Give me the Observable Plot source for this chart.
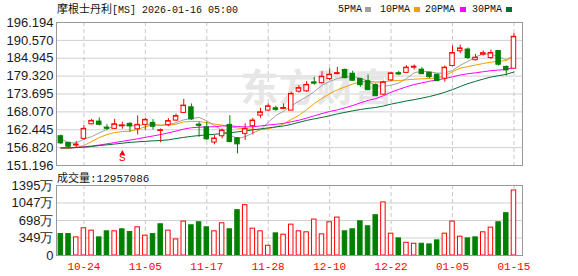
<!DOCTYPE html>
<html><head><meta charset="utf-8">
<script src="https://cdn.jsdelivr.net/npm/d3@7"></script>
<script src="https://cdn.jsdelivr.net/npm/@observablehq/plot@0.6"></script>
<style>
html,body{margin:0;padding:0;background:#fff}
body{width:578px;height:276px;overflow:hidden;position:relative;font-family:"Liberation Sans",Arial,sans-serif}
#main,#vol{position:absolute;left:0}
#main{top:0}
#vol{top:176px}
.t{position:absolute;white-space:nowrap;color:#111;line-height:14px}
.cjk{font-family:"Noto Sans CJK SC",sans-serif}
.mono{font-family:"Liberation Mono","DejaVu Sans Mono",monospace}
.sq{position:absolute;width:6px;height:5px}
</style></head><body>
<div id="main"></div><div id="vol"></div>
<div class="t" style="left:57px;top:1px;font-size:11px"><span class="cjk">摩根士丹利</span><span class="mono" style="font-size:10px">[MS] 2026-01-16 05:00</span></div>
<div class="t mono" style="left:338px;top:3px;font-size:10px">5PMA</div><div class="sq" style="left:365px;top:7px;background:#a0a0a0"></div>
<div class="t mono" style="left:380px;top:3px;font-size:10px">10PMA</div><div class="sq" style="left:414px;top:7px;background:#f0a000"></div>
<div class="t mono" style="left:425px;top:3px;font-size:10px">20PMA</div><div class="sq" style="left:460px;top:7px;background:#ff00ff"></div>
<div class="t mono" style="left:472px;top:3px;font-size:10px">30PMA</div><div class="sq" style="left:506px;top:7px;background:#007033"></div>
<div class="t" style="left:57px;top:170px;font-size:11px"><span class="cjk">成交量</span><span class="mono" style="font-size:11px">:12957086</span></div>
<script>
const dates = ["2025-10-21","2025-10-22","2025-10-23","2025-10-24","2025-10-27","2025-10-28","2025-10-29","2025-10-30","2025-10-31",
"2025-11-03","2025-11-04","2025-11-05","2025-11-06","2025-11-07","2025-11-10","2025-11-11","2025-11-12","2025-11-13","2025-11-14","2025-11-17","2025-11-18","2025-11-19","2025-11-20","2025-11-21","2025-11-24","2025-11-25","2025-11-26","2025-11-28",
"2025-12-01","2025-12-02","2025-12-03","2025-12-04","2025-12-05","2025-12-08","2025-12-09","2025-12-10","2025-12-11","2025-12-12","2025-12-15","2025-12-16","2025-12-17","2025-12-18","2025-12-19","2025-12-22","2025-12-23","2025-12-24","2025-12-26","2025-12-29","2025-12-30","2025-12-31",
"2026-01-02","2026-01-05","2026-01-06","2026-01-07","2026-01-08","2026-01-09","2026-01-12","2026-01-13","2026-01-14","2026-01-15"];

const opens = [160.40,158.32,157.48,159.58,164.16,165.01,163.13,162.72,163.54,164.29,
162.59,163.98,164.60,162.09,163.91,165.33,167.74,169.50,164.07,163.22,
158.42,160.40,163.98,159.77,161.15,163.54,166.90,168.47,169.19,169.00,
168.47,174.43,174.53,177.35,177.10,178.42,179.93,181.25,180.08,178.42,
177.73,176.47,173.49,177.98,180.24,180.34,181.97,181.34,180.40,179.77,
178.51,182.50,187.15,187.68,184.32,186.05,185.01,187.21,182.22,181.65];
const highs = [160.77,158.51,158.73,163.76,165.73,166.17,164.07,165.73,164.79,164.70,
166.80,166.05,165.64,162.72,165.95,167.37,172.01,170.57,164.79,164.79,
160.62,162.72,166.90,159.90,164.29,166.05,169.19,170.57,169.82,170.57,
174.21,176.32,177.57,178.98,180.71,181.65,182.06,181.56,180.87,178.60,
179.68,176.85,177.73,180.49,180.81,182.60,182.82,181.97,180.50,179.90,
182.50,188.81,189.09,188.15,186.14,187.21,187.53,187.30,182.50,192.74];
const lows = [157.79,156.44,156.85,159.05,163.98,163.66,162.19,162.59,162.59,161.65,
160.84,162.28,162.41,158.32,163.44,165.01,167.74,165.33,160.08,159.05,
157.70,159.58,158.32,154.87,159.05,160.84,166.05,168.15,168.25,168.78,
168.47,173.96,174.21,176.47,176.85,177.89,179.77,178.51,177.73,175.78,
174.75,172.96,173.33,177.73,179.46,180.24,181.25,179.86,178.51,177.73,
177.41,182.44,186.36,184.57,184.07,185.64,184.57,182.50,179.36,181.65];
const closes = [158.32,157.26,157.79,162.72,165.23,164.16,162.91,164.16,163.76,163.66,
163.98,165.55,163.54,162.28,165.17,166.74,170.04,165.86,163.85,159.58,
159.67,162.19,158.73,158.01,162.72,165.33,167.93,169.82,168.87,169.31,
173.71,175.53,176.57,177.10,179.14,179.77,180.24,178.83,178.04,176.63,
175.06,173.18,177.35,180.18,179.99,181.97,182.28,180.08,179.14,177.89,
181.97,186.58,188.03,185.17,185.11,186.52,186.58,183.07,181.28,191.70];
// volume in 万 shares
const volumes = [427,427,361,542,495,361,482,482,522,468,
562,395,427,622,495,321,676,602,662,562,
482,642,522,903,1003,535,482,194,441,415,
615,482,462,716,421,662,756,482,522,682,
582,803,1057,435,341,254,234,234,221,301,
435,676,375,341,361,462,555,662,843,1295.7086];
const ma5 = [159.67,158.32,158.32,159.50,160.26,161.43,162.56,163.84,164.04,163.73,
163.69,164.22,164.10,163.80,164.10,164.66,165.55,166.02,166.33,165.21,
163.80,162.23,160.80,159.64,160.26,161.40,162.54,164.76,166.93,168.25,
169.93,171.45,172.80,174.44,176.41,177.62,178.56,179.02,179.20,178.70,
177.76,176.35,176.05,176.48,177.15,178.53,180.35,180.90,180.69,180.27,
180.27,181.13,182.72,183.93,185.37,186.28,186.28,185.29,184.51,185.83];
const ma10 = [156.44,156.60,156.91,157.48,158.73,159.99,160.93,161.56,161.87,162.00,
162.56,163.39,163.97,163.92,163.92,164.18,164.89,165.06,165.07,164.66,
164.23,163.89,163.41,162.98,162.74,162.60,162.39,162.78,163.29,164.26,
165.66,167.00,168.78,170.69,172.33,173.78,175.01,175.91,176.82,177.56,
177.69,177.46,177.53,177.84,177.93,178.15,178.35,178.48,178.59,178.71,
179.40,180.74,181.81,182.31,182.82,183.28,183.71,184.01,184.22,185.60];
const ma20 = [156.75,156.75,156.85,157.07,157.32,157.63,158.01,158.42,158.79,159.20,
159.61,160.05,160.49,160.93,161.46,162.03,162.66,163.07,163.25,163.33,
163.40,163.64,163.69,163.45,163.33,163.39,163.64,163.92,164.18,164.46,
164.95,165.44,166.10,166.84,167.54,168.19,168.70,169.35,170.05,170.91,
171.68,172.23,173.16,174.27,175.13,175.96,176.68,177.19,177.71,178.13,
178.55,179.10,179.67,180.08,180.37,180.71,181.03,181.24,181.40,182.16];
const ma30 = [156.75,156.75,156.85,156.94,157.16,157.48,157.70,157.95,158.20,158.48,
158.64,158.79,158.95,159.05,159.27,159.67,160.05,160.37,160.62,160.84,
161.02,161.24,161.50,161.78,162.09,162.41,162.72,163.03,163.35,163.64,
164.15,164.76,165.39,165.87,166.33,166.85,167.43,167.92,168.39,168.82,
169.19,169.45,169.91,170.51,171.00,171.51,171.91,172.39,172.90,173.51,
174.25,175.07,176.04,176.95,177.69,178.40,179.02,179.46,179.88,180.62];
const priceTicks = [151.196,156.820,162.445,168.070,173.695,179.320,184.945,190.570,196.194];
const volTicks = [0,349,698,1047,1395];
const labelDates = ["2025-10-24","2025-11-05","2025-11-17","2025-11-28","2025-12-10","2025-12-22","2026-01-05","2026-01-15"];
const events = [{date:"2025-10-31", label:"S"}];
const maSeries = [
  {name:"5PMA", values:ma5, color:"#a0a0a0"},
  {name:"10PMA", values:ma10, color:"#f0a000"},
  {name:"20PMA", values:ma20, color:"#ff00ff"},
  {name:"30PMA", values:ma30, color:"#007033"}
];

const RED = "#ff0000", GREEN = "#008000";
const idx = d3.range(dates.length);
const candleUp = i => closes[i] >= opens[i];
const volUp = i => i === 0 ? candleUp(0) : closes[i] >= closes[i-1];
const xScale = {type:"band", domain:dates, paddingInner:0, paddingOuter:0.34, align:0.1, axis:null};
const FONT = "'Liberation Sans', Arial, sans-serif";

const main = Plot.plot({
  width:578, height:176,
  marginLeft:56, marginRight:56, marginTop:22, marginBottom:11,
  style:{fontFamily:FONT, fontSize:"13px", color:"#1a1a1a", background:"transparent", overflow:"visible"},
  x: xScale,
  y: {domain:[priceTicks[0], priceTicks[priceTicks.length-1]], ticks:priceTicks, tickFormat:d=>d.toFixed(3), tickSize:0, tickPadding:3, label:null},
  marks:[
    Plot.ruleY(priceTicks.slice(1,-1), {stroke:"#cfcfcf"}),
    Plot.ruleX(labelDates, {stroke:"#c8c8c8", strokeDasharray:"4,3"}),
    Plot.text(["东方财富"], {frameAnchor:"middle", dx:27, dy:-5, fontSize:38, fontWeight:"bold", fill:"#e6e6e6", fontFamily:"'Noto Sans CJK SC', sans-serif"}),
    ...maSeries.map(s => Plot.line(idx, {x:i=>dates[i], y:i=>s.values[i], stroke:s.color, strokeWidth:1})),
    Plot.ruleX(idx, {x:i=>dates[i], y1:i=>lows[i], y2:i=>highs[i], stroke:i=>candleUp(i)?RED:GREEN}),
    Plot.barY(idx, {x:i=>dates[i], y1:i=>opens[i], y2:i=>closes[i], fill:i=>candleUp(i)?"#fff":GREEN, stroke:i=>candleUp(i)?RED:GREEN, insetLeft:1.6, insetRight:1.6}),
    Plot.tickY(idx, {x:i=>dates[i], y:i=>closes[i], stroke:i=>candleUp(i)?RED:GREEN, insetLeft:1.2, insetRight:1.2}),
    Plot.dot(events, {x:"date", y:()=>priceTicks[0], dy:-12, symbol:"triangle", r:2.2, fill:RED, stroke:"none"}),
    Plot.text(events, {x:"date", text:"label", frameAnchor:"bottom", dy:-5, fontSize:11, fill:RED, fontFamily:"'Liberation Mono', monospace"}),
    Plot.frame({stroke:"#999"})
  ]
});
document.getElementById("main").append(main);

const vol = Plot.plot({
  width:578, height:100,
  marginLeft:56, marginRight:56, marginTop:9, marginBottom:21,
  style:{fontFamily:FONT, fontSize:"13px", color:"#1a1a1a", background:"transparent", overflow:"visible"},
  x: xScale,
  y: {domain:[0,1395], ticks:volTicks, tickFormat:d=>d===0?"0":d+"万", tickSize:0, tickPadding:3, label:null},
  marks:[
    Plot.ruleY(volTicks.slice(1,-1), {stroke:"#cfcfcf"}),
    Plot.ruleX(labelDates, {stroke:"#c8c8c8", strokeDasharray:"4,3"}),
    Plot.barY(idx, {x:i=>dates[i], y:i=>volumes[i], fill:i=>volUp(i)?"#fff":GREEN, stroke:i=>volUp(i)?RED:GREEN, insetLeft:1.6, insetRight:1.6}),
    Plot.text(labelDates, {x:d=>d, text:d=>d.slice(5), frameAnchor:"bottom", dy:11, lineAnchor:"middle", fill:RED, fontSize:11, fontFamily:"'Liberation Mono', monospace"}),
    Plot.frame({stroke:"#999"})
  ]
});
document.getElementById("vol").append(vol);
</script>
</body></html>
